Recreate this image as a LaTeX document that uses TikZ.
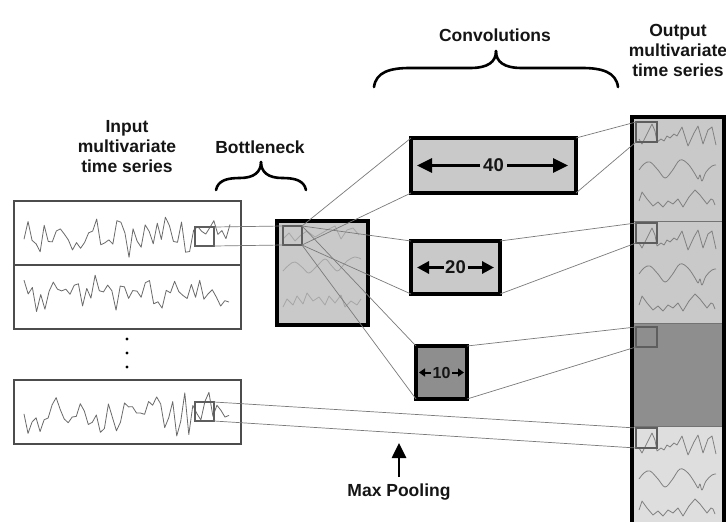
\documentclass[tikz,border=0pt]{standalone}
\usepackage{fontspec}
\setmainfont{Liberation Sans}
\usetikzlibrary{arrows.meta}
\definecolor{boxgray}{HTML}{C9C9C9}
\definecolor{darkbox}{HTML}{8E8E8E}
\definecolor{lightsec}{HTML}{DEDEDE}
\definecolor{wingray}{HTML}{5E5E5E}
\definecolor{wavegray}{HTML}{6A6A6A}
\definecolor{faintwave}{HTML}{A6A6A6}
\definecolor{linegray}{HTML}{7A7A7A}
\definecolor{txt}{HTML}{151515}
\begin{document}
\begin{tikzpicture}[x=1pt,y=-1pt,
  lbl/.style={font=\fontsize{17.5}{20}\selectfont\bfseries, text=txt, align=center, inner sep=0},
  panel/.style={draw=black!70, line width=1.1pt, anchor=north west, inner sep=0, outer sep=0, minimum width=227pt, minimum height=64pt},
  convbox/.style={draw=black, line width=3.5pt, fill=boxgray, anchor=north west, inner sep=0, outer sep=0},
  win/.style={draw=wingray, line width=2.6pt, anchor=north west, inner sep=0, outer sep=0, minimum width=19pt, minimum height=19pt},
  conn/.style={draw=linegray, line width=0.7pt},
  wave/.style={draw=wavegray, line width=0.8pt, line join=round},
  owave/.style={draw=wavegray!85, line width=0.8pt, line join=round},
  bwave/.style={draw=faintwave, line width=0.8pt, line join=round},
  brace/.style={draw=black, line width=2.6pt, line cap=round},
  bigarr/.style={line width=3pt, -{Triangle[length=15pt,width=14pt]}},
  midarr/.style={line width=3pt, -{Triangle[length=12pt,width=12pt]}},
  smallarr/.style={line width=2pt, -{Triangle[length=6pt,width=8pt]}}
]
\useasboundingbox (0,0) rectangle (726,522);
\fill[white] (0,0) rectangle (726,522);

% ---------- labels ----------
\node[lbl] (linput) at (127,147) {Input\\multivariate\\time series};
\node[lbl] (lbottle) at (260,147) {Bottleneck};
\node[lbl] (lconv) at (495,35) {Convolutions};
\node[lbl] (lout) at (678,50) {Output\\multivariate\\time series};
\node[lbl] (mp) at (399,492) {Max Pooling};

% ---------- braces ----------
\draw[brace] (216,190) .. controls (218,180) and (228,178) .. (240,178) .. controls (254,178) and (261,172) .. (261,162);
\draw[brace] (306,190) .. controls (304,180) and (294,178) .. (282,178) .. controls (268,178) and (261,172) .. (261,162);
\draw[brace] (374,87) .. controls (376,72) and (390,68) .. (410,68) -- (470,68) .. controls (488,68) and (496,62) .. (496,51);
\draw[brace] (618,87) .. controls (616,72) and (602,68) .. (582,68) -- (522,68) .. controls (504,68) and (496,62) .. (496,51);

% ---------- input panels ----------
\node[panel] (in1) at (14,201) {};
\node[panel] (in2) at (14,265) {};
\node[panel] (in3) at (14,380) {};
\pgfmathsetseed{7}
\draw[wave] plot[domain=24:230, samples=52] (\x, {234 + 17*rand + 7*sin(\x*37)});
\pgfmathsetseed{23}
\draw[wave] plot[domain=24:229, samples=50] (\x, {294 + 15*rand + 6*sin(\x*41)});
\pgfmathsetseed{41}
\draw[wave] plot[domain=24:229, samples=52] (\x, {412 + 17*rand + 7*sin(\x*29)});
\fill[black] (127,339) circle (1.6) (127,353) circle (1.6) (127,367) circle (1.6);
\node[win] (w1) at (195,227) {};
\node[win] (w3) at (195,402) {};

% ---------- bottleneck ----------
\node[convbox, minimum width=91pt, minimum height=104pt] (bn) at (277,221) {};
\begin{scope}[shift={(277,221)}]
\draw[bwave] (6,18) -- (12,12) -- (18,20) -- (24,14) -- (30,10) -- (38,16) -- (45,12) -- (52,8) -- (58,5) -- (64,18) -- (70,9) -- (76,7) -- (82,14);
\draw[bwave] plot[smooth, tension=0.6] coordinates {(6,50) (12,44) (18,41) (26,47) (32,52) (40,45) (48,38) (54,44) (60,50) (64,47) (70,40) (78,36) (84,38)};
\draw[bwave] (6,86) -- (10,78) -- (16,84) -- (20,75) -- (26,83) -- (30,72) -- (36,80) -- (42,76) -- (48,84) -- (52,75) -- (58,82) -- (64,74) -- (68,86) -- (74,80) -- (80,84) -- (84,78);
\end{scope}
\node[win] (wb) at (283,226) {};

% ---------- convolution boxes ----------
\node[convbox, minimum width=165pt, minimum height=55pt] (c40) at (411,138) {};
\node[convbox, minimum width=89pt, minimum height=53pt] (c20) at (411,241) {};
\node[convbox, fill=darkbox, minimum width=51pt, minimum height=53pt] (c10) at (416,346) {};

\node[font=\fontsize{18.5}{18}\selectfont\bfseries, text=txt, inner sep=0] (t40) at (c40.center) {40};
\draw[bigarr] ([xshift=-13.5pt]c40.center) -- ([xshift=6pt]c40.west);
\draw[bigarr] ([xshift=13.5pt]c40.center) -- ([xshift=-8pt]c40.east);

\node[font=\fontsize{18.5}{18}\selectfont\bfseries, text=txt, inner sep=0] (t20) at (c20.center) {20};
\draw[midarr] ([xshift=-12pt]c20.center) -- ([xshift=6pt]c20.west);
\draw[midarr] ([xshift=12pt]c20.center) -- ([xshift=-6pt]c20.east);

\node[font=\fontsize{16}{16}\selectfont\bfseries, text=txt, inner sep=0] (t10) at (c10.center) {10};
\draw[smallarr] ([xshift=-10.5pt]c10.center) -- ([xshift=3pt]c10.west);
\draw[smallarr] ([xshift=10.5pt]c10.center) -- ([xshift=-3pt]c10.east);

% ---------- output column ----------
\fill[boxgray] (632,117) rectangle (724,323);
\fill[darkbox] (632,323) rectangle (724,426);
\fill[lightsec] (632,426) rectangle (724,524);
\draw[black!55, line width=1pt] (632,221) -- (724,221) (632,323) -- (724,323) (632,426) -- (724,426);
\foreach \yy in {117,221,426}{
\begin{scope}[shift={(636,\yy)}]
\draw[owave] (3,22) -- (6,27) -- (11,17) -- (16,7) -- (19,14) -- (21,25) -- (25,22) -- (28,24) -- (31,19) -- (34,21) -- (38,17) -- (41,19) -- (46,10) -- (52,29) -- (58,16) -- (62,9) -- (67,27) -- (72,13) -- (76,10) -- (80,28);
\draw[owave] plot[smooth, tension=0.6] coordinates {(3,53) (8,47) (14,45) (22,53) (29,61) (36,54) (44,43) (52,47) (59,57) (62,62) (64,58) (66,64) (70,55) (76,49) (80,48)};
\draw[owave] (3,84) -- (6,75) -- (11,82) -- (17,89) -- (22,85) -- (27,90) -- (32,84) -- (37,87) -- (42,82) -- (47,90) -- (53,80) -- (59,73) -- (64,78) -- (71,87) -- (75,82) -- (77,83) -- (79,88);
\end{scope}}
\draw[black, line width=3.5pt] (632,526) -- (632,117) -- (724,117) -- (724,526);
\node[win, minimum width=21pt, minimum height=20pt] (o1) at (636,122) {};
\node[win, minimum width=21pt, minimum height=20pt] (o2) at (636,223) {};
\node[win, minimum width=21pt, minimum height=20pt] (o3) at (636,327) {};
\node[win, minimum width=21pt, minimum height=20pt] (o4) at (636,428) {};

% ---------- connectors ----------
\draw[conn] (w1.north east) -- (wb.north west);
\draw[conn] (w1.south east) -- (wb.south west);
\foreach \c in {c40,c20,c10}{
  \draw[conn] (wb.north east) -- (\c.north west);
  \draw[conn] (wb.south east) -- (\c.south west);
}
\draw[conn] (c40.north east) -- (o1.north west);
\draw[conn] (c40.south east) -- (o1.south west);
\draw[conn] (c20.north east) -- (o2.north west);
\draw[conn] (c20.south east) -- (o2.south west);
\draw[conn] (c10.north east) -- (o3.north west);
\draw[conn] (c10.south east) -- (o3.south west);
\draw[conn] (w3.north east) -- (o4.north west);
\draw[conn] (w3.south east) -- (o4.south west);

% ---------- max pooling arrow ----------
\coordinate (mptail) at (399,477);
\coordinate (mptip) at (399,443);
\draw[line width=2.6pt, -{Triangle[length=15pt,width=14pt]}] (mptail) -- (mptip);
\end{tikzpicture}
\end{document}
